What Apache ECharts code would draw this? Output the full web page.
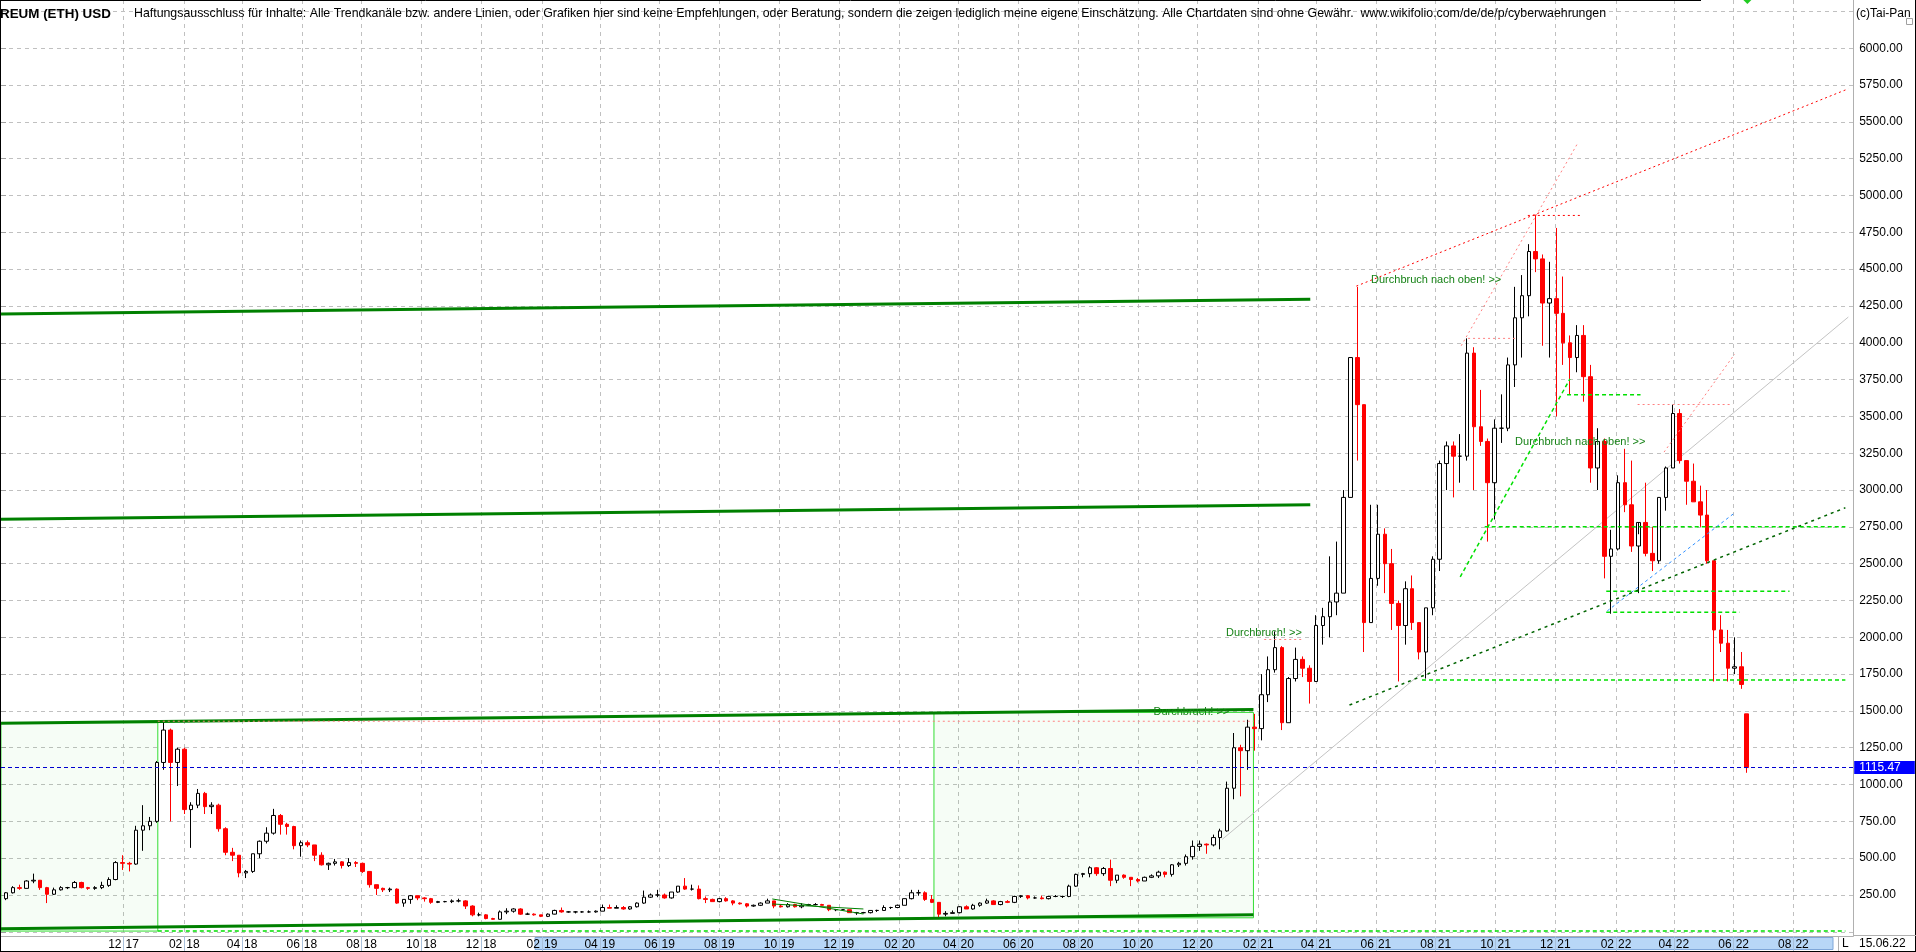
<!DOCTYPE html>
<html><head><meta charset="utf-8">
<script src="https://cdn.jsdelivr.net/npm/echarts/dist/echarts.min.js"></script>
<style>html,body{margin:0;padding:0;background:#fff;overflow:hidden}#c{width:1916px;height:952px}</style>
</head><body><div id="c"></div>
<script>
// ---------------- DATA ----------------
const FIRST_DAY = '2017-07-29';
const LAST_DAY_AXIS = '2022-10-01';
const LAST_DATA_DAY = '2022-06-15';
const lastPrice = 1115.47;

// weekly candles [open, high, low, close], first Monday of each block given separately
const weekStart2017 = '2017-07-31';
const ohlc2017 = [[225,270,215,265],[265,310,260,300],[300,320,285,295],[295,350,295,345],[345,395,330,350],[350,350,285,300],[300,305,195,255],[255,300,250,285],[285,310,280,300],[300,305,290,300],[300,345,295,335],[335,340,295,300],[300,305,285,295],[295,310,285,300],[300,340,290,315],[315,370,305,355],[355,480,350,470],[470,520,420,465],[465,475,410,460],[460,720,455,690],[690,860,550,720],[720,780,690,750]];
const weekStart2018 = '2018-01-01';
const ohlc2018 = [[750,1160,740,1150],[1150,1430,1100,1370],[1370,1380,750,1150],[1150,1250,990,1240],[1240,1250,800,830],[830,880,570,860],[860,970,840,940],[940,950,800,850],[850,880,800,860],[860,870,680,700],[700,710,520,540],[540,570,480,520],[520,520,370,400],[400,420,365,410],[410,530,400,530],[530,620,500,615],[615,710,600,670],[670,835,660,790],[790,800,660,730],[730,740,660,715],[715,720,560,585],[585,620,510,605],[605,620,575,590],[590,590,480,520],[520,540,450,455],[455,470,420,465],[465,495,450,475],[475,480,430,450],[450,500,440,470],[470,480,440,465],[465,470,400,410],[410,410,300,320],[320,320,250,295],[295,300,270,285],[285,300,270,290],[290,295,190,195],[195,220,170,220],[220,250,190,245],[245,245,215,230],[230,235,205,225],[225,230,190,200],[200,210,195,205],[205,210,200,205],[205,220,195,210],[210,225,200,210],[210,215,155,175],[175,180,105,115],[115,130,105,115],[115,120,85,90],[90,95,83,85],[85,145,85,135],[135,160,120,140],[140,160,130,155]];
const weekStart2019 = '2019-01-07';
const ohlc2019 = [[155,160,115,120],[120,130,115,120],[120,125,110,115],[115,115,100,105],[105,125,100,120],[120,150,118,145],[145,165,130,135],[135,140,130,135],[135,140,125,135],[135,140,130,135],[135,145,130,135],[135,145,130,140],[140,185,140,165],[165,185,160,160],[160,180,160,165],[165,175,150,155],[155,175,150,170],[170,200,165,195],[195,280,190,235],[235,260,230,250],[250,285,235,250],[250,260,225,230],[230,270,225,270],[270,310,265,310],[310,365,285,290],[290,320,280,290],[290,315,220,225],[225,240,195,220],[220,225,205,205],[205,230,200,225],[225,235,205,210],[210,215,180,195],[195,200,185,190],[190,195,165,175],[175,185,170,180],[180,200,175,195],[195,225,195,210],[210,210,160,175],[175,185,165,170],[170,195,165,185],[185,190,165,170],[170,195,160,180],[180,190,175,185],[185,195,180,185],[185,190,180,180],[180,180,140,150],[150,155,140,150],[150,150,145,150],[150,150,130,130],[130,135,115,130],[130,135,125,130],[130,145,125,145]];
const weekStart2020 = '2020-01-06';
const ohlc2020 = [[145,150,135,145],[145,180,145,165],[165,170,155,165],[165,185,160,180],[180,225,180,225],[225,285,220,265],[265,285,245,265],[265,275,210,220],[220,250,195,200],[200,200,100,120],[120,140,105,125],[125,145,125,130],[130,175,125,170],[170,180,155,155],[155,190,150,180],[180,200,170,195],[195,225,190,210],[210,215,185,185],[185,210,180,205],[205,215,195,200],[200,245,195,240],[240,250,230,245],[245,250,220,230],[230,240,225,230],[230,245,220,225],[225,245,220,240],[240,250,235,240],[240,245,230,240],[240,320,235,310],[310,395,305,390],[390,400,370,395],[395,445,370,435],[435,440,380,395],[395,440,380,430],[430,490,310,350],[350,385,330,385],[385,390,360,370],[370,370,310,355],[355,365,335,345],[345,375,345,370],[370,390,365,380],[380,415,365,405],[405,410,370,390],[390,460,375,455],[455,475,440,465],[465,525,450,510],[510,620,490,580],[580,620,550,595],[595,600,530,590],[590,660,580,640],[640,700,560,685],[685,1020,680,975]];
const weekStart2021 = '2021-01-04';
const ohlc2021 = [[975,1350,900,1250],[1250,1270,920,1230],[1230,1440,1100,1390],[1390,1480,1230,1380],[1380,1750,1300,1610],[1610,1870,1560,1780],[1780,2040,1760,1930],[1930,1940,1370,1420],[1420,1730,1420,1720],[1720,1930,1700,1850],[1850,1870,1730,1790],[1790,1810,1550,1700],[1700,2150,1700,2080],[2080,2200,1950,2140],[2140,2550,2000,2240],[2240,2650,2150,2300],[2300,3000,2300,2950],[2950,3900,2950,3900],[3900,4380,3200,3580],[3580,3580,1900,2100],[2100,2900,2100,2400],[2400,2900,2350,2700],[2700,2740,2300,2500],[2500,2600,2050,2230],[2230,2250,1700,2080],[2080,2380,1950,2330],[2330,2420,2050,2100],[2100,2100,1850,1900],[1900,2200,1720,2200],[2200,2550,2150,2530],[2530,3200,2450,3180],[3180,3330,3000,3300],[3300,3330,2950,3230],[3230,3380,3050,3230],[3230,4030,3200,3930],[3930,3970,3000,3430],[3430,3680,3300,3330],[3330,3350,2650,3050],[3050,3480,2800,3420],[3420,3650,3320,3420],[3420,3900,3400,3850],[3850,4380,3700,4170],[4170,4460,3900,4320],[4320,4670,4180,4620],[4620,4870,4480,4570],[4570,4600,3980,4270],[4270,4550,3900,4300],[4300,4780,3500,4200],[4200,4450,3850,4000],[4000,4050,3650,3900],[3900,4120,3800,4050],[4050,4120,3600,3770]];
const weekStart2022 = '2022-01-03';
const ohlc2022 = [[3770,3850,3050,3150],[3150,3420,3000,3330],[3330,3350,2400,2550],[2550,2730,2160,2600],[2600,3100,2590,3050],[3050,3280,2850,2900],[2900,3200,2580,2620],[2620,2700,2300,2780],[2780,3050,2550,2570],[2570,2750,2450,2520],[2520,2950,2500,2950],[2950,3160,2860,3150],[3150,3580,3150,3520],[3520,3550,3180,3200],[3200,3200,2900,3060],[3060,3180,2920,2920],[2920,3030,2750,2830],[2830,3000,2500,2520],[2520,2520,1700,2050],[2050,2150,1900,1960],[1960,2050,1700,1790],[1790,2000,1750,1800],[1800,1900,1650,1680],[1480,1480,1080,1115.47]];

// y axis ticks
const yTickMin = 0, yTickMax = 6250, yTickStep = 250;

// drawn trend lines, [date, price] pairs
const channelLines = [
  [['2017-07-29', 4196], ['2021-03-26', 4296]],
  [['2017-07-29', 2801], ['2021-03-26', 2900]],
  [['2017-07-29', 1416], ['2021-01-27', 1510]],
  [['2017-07-29', 21], ['2021-01-27', 115]]
];
const redDotted = [
  [['2021-05-12', 4385], ['2022-09-26', 5725]],
  [['2021-11-03', 4865], ['2021-12-29', 4865]]
];
const pinkDotted = [
  [['2018-01-05', 1430], ['2021-01-27', 1430]],
  [['2021-08-27', 3980], ['2021-12-24', 5357]],
  [['2021-09-03', 4030], ['2021-10-21', 4030]],
  [['2022-03-22', 3258], ['2022-06-02', 3923]],
  [['2022-02-23', 3581], ['2022-05-31', 3581]],
  [['2021-02-07', 1985], ['2021-03-19', 1985]]
];
const limeDotted = [
  [['2018-01-05', 6], ['2022-09-23', 6]],
  [['2021-07-18', 1710], ['2022-09-23', 1710]],
  [['2021-09-20', 2750], ['2022-09-23', 2750]],
  [['2021-12-13', 3648], ['2022-02-26', 3648]],
  [['2022-01-22', 2312], ['2022-07-28', 2312]],
  [['2022-01-22', 2170], ['2022-06-07', 2170]],
  [['2021-08-26', 2410], ['2021-12-16', 3755]]
];
const blueDashed = [[['2022-01-23', 2179], ['2022-06-02', 2845]]];
const darkGreenDashed = [[['2021-05-05', 1540], ['2022-09-23', 2880]]];
const greyLine = [[['2020-12-26', 627], ['2022-09-26', 4175]]];
const wedgeLines = [
  [['2019-09-24', 223], ['2019-12-26', 121]],
  [['2019-09-24', 189], ['2019-12-26', 155]]
];
const boxes = [
  [['2017-07-29', 5], ['2018-01-05', 1420]],
  [['2020-03-07', 95], ['2021-01-27', 1490]]
];
const notes = [
  ['2021-05-27', 4426, 'Durchbruch nach oben! >>'],
  ['2021-10-21', 3326, 'Durchbruch nach oben! >>'],
  ['2020-12-30', 2029, 'Durchbruch! >>'],
  ['2020-10-17', 1490, 'Durchbruch! >>']
];
const titleText = 'REUM (ETH) USD';
const disclaimer = 'Haftungsausschluss für Inhalte: Alle Trendkanäle bzw. andere Linien, oder Grafiken hier sind keine Empfehlungen, oder Beratung, sondern die zeigen lediglich meine eigene Einschätzung. Alle Chartdaten sind ohne Gewähr.  www.wikifolio.com/de/de/p/cyberwaehrungen';
const copyright = '(c)Tai-Pan';
const dateStamp = '15.06.22';

// ---------------- BUILD ----------------
const FONT = "'Liberation Sans', Arial, sans-serif";
const DAY_MS = 864e5;
function utc(s){ const p = s.split('-').map(Number); return Date.UTC(p[0], p[1]-1, p[2]); }
const DAY0 = utc(FIRST_DAY);
function dayIndex(s){ return Math.round((utc(s) - DAY0) / DAY_MS); }
const N_DAYS = dayIndex(LAST_DAY_AXIS) + 1;
const categories = [];
for (let i = 0; i < N_DAYS; i++) categories.push(new Date(DAY0 + i*DAY_MS).toISOString().slice(0,10));

const blocks = [[weekStart2017, ohlc2017],[weekStart2018, ohlc2018],[weekStart2019, ohlc2019],[weekStart2020, ohlc2020],[weekStart2021, ohlc2021],[weekStart2022, ohlc2022]];
const lastIdx = dayIndex(LAST_DATA_DAY);
const candleData = [];
blocks.forEach(([start, rows]) => rows.forEach((r, k) => {
  const x = Math.min(dayIndex(start) + 7*k + 3, lastIdx - 1);
  candleData.push([x, r[0], r[3], r[2], r[1]]);
}));

const firstGridIdx = dayIndex('2017-12-01');
function isTick(index, value){
  if (index < firstGridIdx || index >= N_DAYS - 1) return false;
  const m = +value.slice(5,7), d = +value.slice(8,10);
  return d === 1 && m % 2 === 0;
}
function seg(pts){ return pts.map(p => [dayIndex(p[0]), p[1]]); }
const series = [];
series.push({
  type: 'candlestick', xAxisIndex: 0, yAxisIndex: 0,
  dimensions: ['x','open','close','lowest','highest'],
  encode: { x: 0, y: [1,2,3,4] },
  data: candleData, barWidth: 4, silent: true, z: 4,
  itemStyle: { color: '#ffffff', color0: '#ff0000', borderColor: '#000000', borderColor0: '#ff0000', borderWidth: 1 }
});
function addLines(list, style, z){
  list.forEach(pts => series.push({ type:'line', xAxisIndex:0, yAxisIndex:0, data: seg(pts), symbol:'none', silent:true, lineStyle: style, z: z }));
}
addLines(channelLines, { color:'#008000', width:3 }, 6);
addLines(redDotted, { color:'#ff0000', width:1, type:[2,3] }, 6);
addLines(pinkDotted, { color:'#ff8080', width:1, type:[2,3] }, 6);
addLines(limeDotted, { color:'#00e000', width:1.5, type:[4,3] }, 6);
addLines(blueDashed, { color:'#3090ff', width:1, type:[3,3] }, 6);
addLines(darkGreenDashed, { color:'#006400', width:1.5, type:[3,4] }, 6);
addLines(greyLine, { color:'#c4c4c4', width:1 }, 3);
addLines(wedgeLines, { color:'#008000', width:1 }, 6);
// boxes + price line
series.push({
  type:'line', xAxisIndex:0, yAxisIndex:0, data:[[0, null]], symbol:'none', silent:true, z:2,
  markArea: { silent:true, itemStyle:{ color:'rgba(40,220,40,0.045)', borderColor:'#33dd33', borderWidth:1 },
    data: boxes.map(b => [{ coord:[dayIndex(b[0][0]), b[0][1]] }, { coord:[dayIndex(b[1][0]), b[1][1]] }]) },
  markLine: { silent:true, symbol:['none','none'], lineStyle:{ color:'#0000d0', width:1, type:[4,3] },
    label:{ show:true, position:'end', distance:1, formatter: lastPrice.toFixed(2), color:'#ffffff', backgroundColor:'#0000ff',
      fontFamily: FONT, fontSize:12, lineHeight:13, padding:[0,14,0,5] },
    data: [{ yAxis: lastPrice }] }
});
series.push({
  type:'scatter', xAxisIndex:0, yAxisIndex:0, symbolSize:0, silent:true, z:8,
  itemStyle: { opacity: 1 },
  data: notes.map(n => ({ value:[dayIndex(n[0]), n[1]], label:{ formatter: n[2] } })),
  label: { show:true, position:[0,0], align:'left', verticalAlign:'middle', color:'#168216', opacity:1,
    textBorderWidth:0, fontFamily: FONT, fontSize:11 }
});

const GL = 1, GR = 62.8;
const option = {
  animation: false,
  backgroundColor: '#ffffff',
  grid: [
    { left: GL, right: GR, top: 11.5, bottom: 20.2, outerBoundsMode: 'none' },
    { left: GL, right: GR, top: 0, bottom: 16, outerBoundsMode: 'none' }
  ],
  xAxis: [
    { type:'value', gridIndex:0, min:0, max:N_DAYS-1, show:false },
    { type:'category', gridIndex:1, data: categories, boundaryGap:false, position:'bottom',
      axisLine: { show:true, lineStyle:{ color:'#b0b0b0' } },
      axisTick: { show:true, interval: isTick, length:15, lineStyle:{ color:'#a9c0da' } },
      axisLabel: { show:true, interval: isTick, margin:3,
        formatter: v => '{m|' + v.slice(5,7) + '}{y|' + v.slice(2,4) + '}',
        rich: { m:{ fontFamily:FONT, fontSize:12, color:'#000', padding:[0,2,0,0] }, y:{ fontFamily:FONT, fontSize:12, color:'#000', padding:[0,0,0,2] } } },
      splitLine: { show:true, interval: isTick, lineStyle:{ color:'#c0c0c0', type:[4,4] } } }
  ],
  yAxis: [
    { type:'value', gridIndex:0, min:yTickMin, max:yTickMax, interval:yTickStep, position:'right',
      axisLine:{ show:false }, axisTick:{ show:true, length:5, lineStyle:{ color:'#a0a0a0' } },
      axisLabel:{ margin:6, color:'#000', fontFamily:FONT, fontSize:12,
        formatter: v => (v <= yTickMin || v >= yTickMax) ? '' : v.toFixed(2) },
      splitLine:{ show:true, lineStyle:{ color:'#c0c0c0', type:[4,4] } } },
    { type:'value', gridIndex:1, min:0, max:1, position:'right',
      axisLine:{ show:true, lineStyle:{ color:'#b0b0b0' } }, axisTick:{ show:false }, axisLabel:{ show:false }, splitLine:{ show:false } }
  ],
  series: series,
  graphic: { elements: [
    { type:'rect', z:-1, shape:{ x:535, y:937.5, width:1298, height:12 }, style:{ fill:'#b8d7f7', stroke:'#7ea6d8', lineWidth:1 } },
    { type:'line', z:50, shape:{ x1:0, y1:0.5, x2:1701, y2:0.5 }, style:{ stroke:'#000', lineWidth:1 } },
    { type:'line', z:50, shape:{ x1:0.5, y1:0, x2:0.5, y2:952 }, style:{ stroke:'#000', lineWidth:1 } },
    { type:'line', z:50, shape:{ x1:1915.5, y1:0, x2:1915.5, y2:952 }, style:{ stroke:'#000', lineWidth:1 } },
    { type:'line', z:50, shape:{ x1:0, y1:951.5, x2:1916, y2:951.5 }, style:{ stroke:'#000', lineWidth:1 } },
    { type:'line', z:50, shape:{ x1:1853, y1:935.5, x2:1916, y2:935.5 }, style:{ stroke:'#b0b0b0', lineWidth:1 } },
    { type:'line', z:50, shape:{ x1:1838.5, y1:936, x2:1838.5, y2:951 }, style:{ stroke:'#b0b0b0', lineWidth:1 } },
    { type:'text', z:50, x:1842, y:944, style:{ text:'L', font:'12px ' + FONT, fill:'#000', verticalAlign:'middle' } },
    { type:'text', z:50, x:1859, y:944, style:{ text: dateStamp, font:'12px ' + FONT, fill:'#000', verticalAlign:'middle' } },
    { type:'text', z:50, x:1856, y:14, style:{ text: copyright, font:'12px ' + FONT, fill:'#000', verticalAlign:'middle' } },
    { type:'rect', z:50, shape:{ x:1906.5, y:18.5, width:6, height:6 }, style:{ fill:'#fff', stroke:'#a0a0a0', lineWidth:1 } },
    { type:'text', z:50, x:0, y:14, style:{ text: titleText, font:'bold 13.4px ' + FONT, fill:'#000', verticalAlign:'middle' } },
    { type:'text', z:50, x:134, y:14, style:{ text: disclaimer, font:'12.35px ' + FONT, fill:'#000', verticalAlign:'middle' } }
  ] }
};
const chart = echarts.init(document.getElementById('c'));
chart.setOption(option);
// current-date marker at the top edge
const px = chart.convertToPixel({ xAxisIndex: 0 }, lastIdx);
chart.setOption({ graphic: { elements: option.graphic.elements.concat([
  { type:'polygon', z:50, shape:{ points:[[px-4,0],[px+4,0],[px,4]] }, style:{ fill:'#22cc22' } }
]) } });
</script></body></html>
